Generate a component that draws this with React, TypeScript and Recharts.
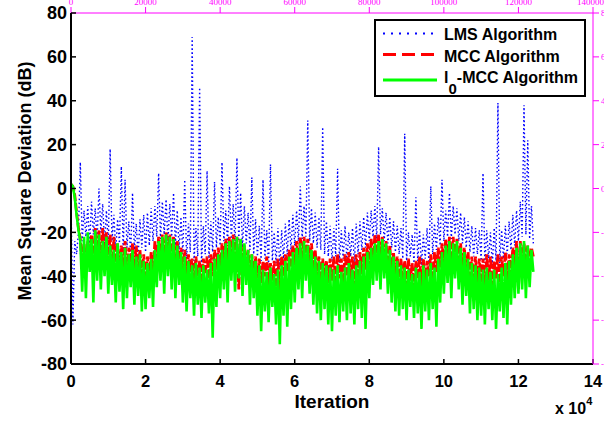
import React from 'react';
import { LineChart, Line, XAxis, YAxis, Label } from 'recharts';

const FONT = "'Liberation Sans', Arial, Helvetica, sans-serif";
const STEP = 500;

const lmsMSD = [
  -5, -62, -24, -30, -20, 12, -24, -10, -22, -8, -26, -6, -21, -9, -24, 0, -20, -7, -25, -10,
  -26, 18, -24, -12, -28, -14, -25, 10, -29, 4, -27, -15, -30, -2, -28, -16, -31, -14, -27, -12,
  -29, -11, -26, -9, -24, -8, -22, 7, -23, -6, -21, -5, -24, -7, -22, -2, -26, -10, -28, -13,
  -30, 4, -32, -16, -29, 69, -33, -18, -31, 46, -34, -17, -30, 8, -32, -15, -29, 3, -27, -13,
  -26, 12, -24, -10, -25, 1, -23, -7, -26, 14, -24, -2, -27, -8, -25, -11, -28, 5, -30, -14,
  -31, -17, -33, 4, -32, -19, -35, 11, -33, -20, -34, -18, -36, -19, -32, -16, -30, -14, -28, -12,
  -26, -10, -24, 1, -23, -8, -22, 31, -24, -9, -25, -11, -27, -13, -28, 28, -30, -15, -31, -17,
  -33, -18, -31, 9, -34, -19, -32, -17, -33, -20, -31, -18, -34, -16, -30, -15, -28, -13, -27, -11,
  -24, -10, -22, -8, -23, 19, -21, -9, -24, -11, -25, -13, -27, -15, -29, -17, -30, -18, -32, 25,
  -33, -20, -31, -21, -34, -4, -33, -19, -35, -21, -32, -18, -34, 1, -30, -16, -28, -13, -26, 4,
  -24, -10, -22, -2, -23, -8, -21, -9, -24, -11, -25, -13, -27, -15, -29, -17, -31, -18, -30, -19,
  -33, 7, -34, -19, -32, -20, -35, -18, -33, 39, -34, -19, -32, -17, -30, -15, -28, -12, -26, -10,
  -24, -6, -22, 38, -21, 22, -23, -8, -25,
];

const mccMSD = [
  2, 1, -3, -11, -18, -23, -36, -25, -38, -24, -34, -21, -37, -18, -35, -19, -36, -18, -33, -20,
  -35, -21, -38, -22, -36, -25, -40, -26, -37, -24, -39, -27, -36, -25, -40, -26, -38, -28, -41, -30,
  -42, -31, -40, -29, -38, -24, -34, -22, -33, -21, -35, -20, -32, -21, -36, -22, -38, -24, -37, -27,
  -39, -28, -41, -30, -38, -32, -42, -31, -40, -33, -43, -32, -39, -31, -41, -30, -40, -28, -37, -27,
  -36, -25, -34, -23, -35, -22, -32, -21, -33, -22, -46, -23, -36, -26, -38, -28, -40, -30, -39, -31,
  -41, -32, -43, -33, -40, -31, -44, -34, -42, -33, -45, -32, -48, -31, -40, -30, -38, -28, -36, -26,
  -35, -24, -33, -22, -34, -22, -32, -23, -35, -25, -37, -28, -40, -31, -42, -32, -41, -33, -43, -32,
  -42, -31, -44, -30, -41, -32, -43, -30, -40, -29, -42, -31, -44, -30, -41, -29, -39, -27, -37, -25,
  -35, -23, -33, -21, -32, -21, -34, -22, -35, -24, -37, -26, -39, -29, -41, -31, -43, -32, -42, -33,
  -44, -32, -42, -34, -45, -33, -41, -31, -47, -32, -43, -33, -40, -30, -42, -29, -38, -27, -36, -25,
  -34, -23, -33, -22, -35, -22, -34, -23, -37, -25, -39, -27, -40, -29, -42, -31, -43, -31, -45, -32,
  -43, -32, -45, -30, -42, -31, -44, -33, -41, -30, -43, -31, -40, -29, -42, -30, -39, -27, -36, -24,
  -46, -24, -35, -25, -34, -26, -36, -27, -31,
];

const l0MSD = [
  2, 1, -4, -12, -19, -24, -47, -22, -50, -20, -38, -23, -52, -19, -42, -21, -46, -24, -40, -22,
  -48, -26, -44, -28, -52, -25, -47, -29, -55, -27, -50, -30, -45, -28, -53, -31, -49, -30, -56, -33,
  -55, -34, -50, -32, -54, -28, -45, -24, -42, -22, -48, -21, -40, -22, -46, -23, -50, -26, -44, -29,
  -52, -31, -56, -33, -50, -35, -58, -34, -53, -36, -59, -35, -52, -37, -57, -34, -68, -32, -54, -30,
  -50, -28, -46, -25, -52, -24, -42, -23, -47, -22, -41, -23, -49, -25, -44, -28, -53, -30, -50, -33,
  -58, -35, -65, -37, -56, -38, -61, -36, -54, -39, -62, -37, -71, -35, -58, -33, -63, -31, -55, -29,
  -52, -27, -46, -25, -50, -24, -42, -26, -48, -28, -53, -31, -57, -33, -60, -34, -55, -35, -62, -36,
  -65, -37, -58, -35, -61, -38, -56, -36, -60, -34, -57, -37, -62, -35, -55, -33, -59, -31, -64, -29,
  -50, -27, -44, -25, -42, -24, -46, -23, -41, -25, -48, -28, -52, -31, -56, -33, -58, -35, -55, -36,
  -60, -37, -54, -39, -59, -36, -57, -38, -64, -35, -56, -37, -60, -34, -55, -36, -63, -32, -52, -29,
  -48, -26, -43, -24, -50, -25, -41, -24, -46, -27, -53, -29, -49, -32, -57, -34, -55, -35, -60, -36,
  -58, -37, -62, -36, -55, -38, -60, -37, -64, -39, -56, -36, -59, -34, -62, -33, -53, -30, -50, -27,
  -48, -25, -46, -24, -50, -26, -45, -28, -38,
];

const xTicks = [0, 20000, 40000, 60000, 80000, 100000, 120000, 140000];
const yTicks = [-80, -60, -40, -20, 0, 20, 40, 60, 80];
const X_MAX = 140000;
const Y_MIN = -80;
const Y_MAX = 80;

const legendItems = [
  { key: 'lms', label: 'LMS Algorithm', color: '#0000ff', dash: '2 6', width: 2 },
  { key: 'mcc', label: 'MCC Algorithm', color: '#ff0000', dash: '13 6', width: 3 },
  { key: 'l0', label: '-MCC Algorithm', color: '#00ff00', dash: undefined, width: 3 },
];

const data = lmsMSD.map((v, i) => ({ iter: i * STEP, lms: v, mcc: mccMSD[i], l0: l0MSD[i] }));

const CHART_W = 604;
const CHART_H = 421;
const LEFT_W = 71;
const RIGHT_W = 11;
const TOP_H = 13;
const BOTTOM_H = 57;

const axisStroke = { stroke: '#000', strokeWidth: 2 };
const tickStroke = { stroke: '#000', strokeWidth: 1.5 };

const XTitle = () => (
  <g>
    <text x={332} y={408} textAnchor="middle" fontSize={19} fontWeight="bold" fontFamily={FONT} fill="#000">
      Iteration
    </text>
    <text x={555} y={414} fontSize={16} fontWeight="bold" fontFamily={FONT} fill="#000">
      x 10<tspan dy={-9} fontSize={11}>4</tspan>
    </text>
  </g>
);

const YTitle = () => (
  <text x={31} y={181} transform="rotate(-90, 31, 181)" textAnchor="middle" fontSize={18} fontWeight="bold" fontFamily={FONT} fill="#000">
    Mean Square Deviation (dB)
  </text>
);

const rowLineY = [14.5, 35.5, 61];
const rowTextY = [21, 43, 64];

const LegendBox = () => (
  <svg width={212} height={78} style={{ display: 'block' }}>
    <rect x={1} y={1} width={210} height={76} fill="#fff" stroke="#000" strokeWidth={2} />
    {legendItems.map((it, i) => (
      <g key={it.key}>
        <line x1={9} x2={63} y1={rowLineY[i]} y2={rowLineY[i]} stroke={it.color} strokeWidth={it.width} strokeDasharray={it.dash} />
        <text x={70} y={rowTextY[i]} fontSize={16} fontWeight="bold" fontFamily={FONT} fill="#000">
          {it.key === 'l0' ? (
            <>
              l<tspan dy={11} fontSize={15}>0</tspan>
              <tspan dy={-11}>{it.label}</tspan>
            </>
          ) : (
            it.label
          )}
        </text>
      </g>
    ))}
  </svg>
);

export default function App() {
  return (
    <div style={{ position: 'absolute', left: 0, top: 0, width: CHART_W, height: CHART_H, background: '#fff' }}>
      <LineChart width={CHART_W} height={CHART_H} data={data} margin={{ top: 0, right: 0, bottom: 0, left: 0 }}>
        <XAxis
          xAxisId="b"
          dataKey="iter"
          type="number"
          domain={[0, X_MAX]}
          ticks={xTicks}
          tickFormatter={(v: number) => String(v / 10000)}
          height={BOTTOM_H}
          tickSize={-5}
          tickMargin={16}
          axisLine={axisStroke}
          tickLine={tickStroke}
          tick={{ fill: '#000', fontSize: 16.5, fontWeight: 'bold', fontFamily: FONT }}
        >
          <Label content={XTitle} />
        </XAxis>
        <XAxis
          xAxisId="t"
          orientation="top"
          dataKey="iter"
          type="number"
          domain={[0, X_MAX]}
          ticks={xTicks}
          height={TOP_H}
          stroke="#f0f"
          tick={{ fill: '#f0f', fontSize: 9 }}
        />
        <YAxis
          yAxisId="l"
          type="number"
          domain={[Y_MIN, Y_MAX]}
          ticks={yTicks}
          width={LEFT_W}
          tickSize={-5}
          tickMargin={9}
          axisLine={axisStroke}
          tickLine={tickStroke}
          tick={{ fill: '#000', fontSize: 18, fontWeight: 'bold', fontFamily: FONT }}
        >
          <Label content={YTitle} />
        </YAxis>
        <YAxis
          yAxisId="r"
          orientation="right"
          type="number"
          domain={[Y_MIN, Y_MAX]}
          ticks={yTicks}
          width={RIGHT_W}
          stroke="#f0f"
          tick={{ fill: '#f0f', fontSize: 9 }}
        />
        <Line xAxisId="t" yAxisId="r" type="linear" dataKey="lms" stroke="#0000ff" strokeWidth={1.4} strokeDasharray="1.5 2.5" dot={false} activeDot={false} isAnimationActive={false} />
        <Line xAxisId="b" yAxisId="l" type="linear" dataKey="mcc" stroke="#ff0000" strokeWidth={2.8} strokeDasharray="8 2" dot={false} activeDot={false} isAnimationActive={false} />
        <Line xAxisId="b" yAxisId="l" type="linear" dataKey="l0" stroke="#00ff00" strokeWidth={2.6} dot={false} activeDot={false} isAnimationActive={false} />
      </LineChart>
      <div style={{ position: 'absolute', left: 374, top: 19, width: 212, height: 78 }}>
        <LegendBox />
      </div>
    </div>
  );
}
